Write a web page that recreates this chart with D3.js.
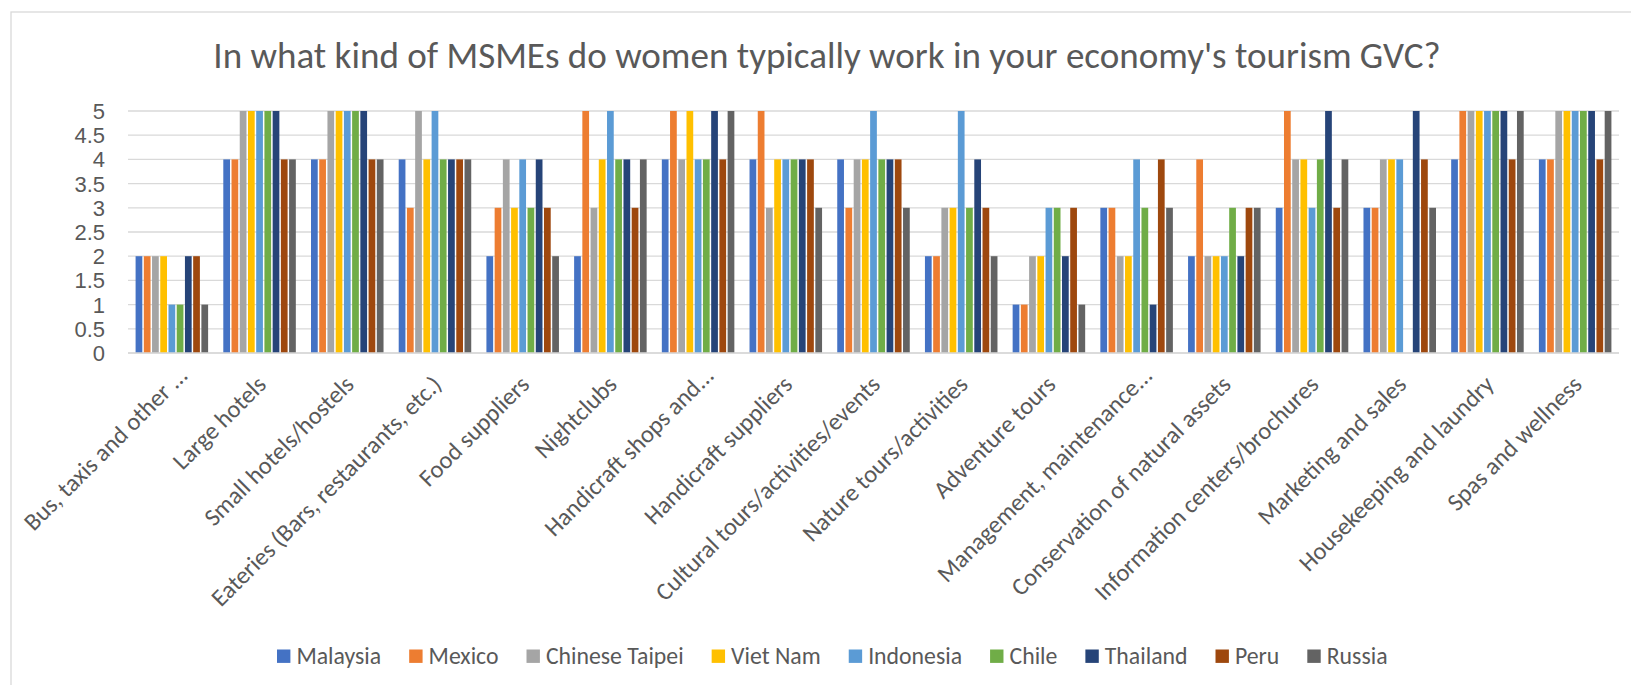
<!DOCTYPE html>
<html>
<head>
<meta charset="utf-8">
<script src="https://cdn.jsdelivr.net/npm/d3@7"></script>
<style>
  html, body { margin: 0; padding: 0; background: #ffffff; }
  svg { display: block; font-family: Carlito, Calibri, Lato, "Open Sans", sans-serif; }
</style>
</head>
<body>
<svg id="chart" width="1631" height="685"></svg>
<script>
// Survey responses: typical MSME types where women work in the tourism GVC
const categories = [
  "Bus, taxis and other ...",
  "Large hotels",
  "Small hotels/hostels",
  "Eateries (Bars, restaurants, etc.)",
  "Food suppliers",
  "Nightclubs",
  "Handicraft shops and...",
  "Handicraft suppliers",
  "Cultural tours/activities/events",
  "Nature tours/activities",
  "Adventure tours",
  "Management, maintenance...",
  "Conservation of natural assets",
  "Information centers/brochures",
  "Marketing and sales",
  "Housekeeping and laundry",
  "Spas and wellness"
];

const seriesNames = ["Malaysia", "Mexico", "Chinese Taipei", "Viet Nam", "Indonesia", "Chile", "Thailand", "Peru", "Russia"];
const seriesColors = ["#4472C4", "#ED7D31", "#A5A5A5", "#FFC000", "#5B9BD5", "#70AD47", "#264478", "#9E480E", "#636363"];

// One array per economy, in category order
const malaysia      = [2, 4, 4, 4, 2, 2, 4, 4, 4, 2, 1, 3, 2, 3, 3, 4, 4];
const mexico        = [2, 4, 4, 3, 3, 5, 5, 5, 3, 2, 1, 3, 4, 5, 3, 5, 4];
const chineseTaipei = [2, 5, 5, 5, 4, 3, 4, 3, 4, 3, 2, 2, 2, 4, 4, 5, 5];
const vietNam       = [2, 5, 5, 4, 3, 4, 5, 4, 4, 3, 2, 2, 2, 4, 4, 5, 5];
const indonesia     = [1, 5, 5, 5, 4, 5, 4, 4, 5, 5, 3, 4, 2, 3, 4, 5, 5];
const chile         = [1, 5, 5, 4, 3, 4, 4, 4, 4, 3, 3, 3, 3, 4, 0, 5, 5];
const thailand      = [2, 5, 5, 4, 4, 4, 5, 4, 4, 4, 2, 1, 2, 5, 5, 5, 5];
const peru          = [2, 4, 4, 4, 3, 3, 4, 4, 4, 3, 3, 4, 3, 3, 4, 4, 4];
const russia        = [1, 4, 4, 4, 2, 4, 5, 3, 3, 2, 1, 3, 3, 4, 3, 5, 5];
const seriesValues = [malaysia, mexico, chineseTaipei, vietNam, indonesia, chile, thailand, peru, russia];

const yTicks = [0, 0.5, 1, 1.5, 2, 2.5, 3, 3.5, 4, 4.5, 5];
const yTickLabels = ["0", "0.5", "1", "1.5", "2", "2.5", "3", "3.5", "4", "4.5", "5"];
const titleText = "In what kind of MSMEs do women typically work in your economy's tourism GVC?";

const svg = d3.select("#chart");
const textColor = "#595959";
const gridColor = "#D9D9D9";

// Measure a string at a given size, used to size text to its slot
function measure(str, size) {
  const t = svg.append("text").attr("font-size", size).text(str);
  const w = t.node().getComputedTextLength();
  t.remove();
  return w;
}

// Plot area
const plot = { left: 128, right: 1619, top: 111, bottom: 353 };

// Chart frame
svg.append("rect")
  .attr("x", 11).attr("y", 12)
  .attr("width", 1700).attr("height", 800)
  .attr("fill", "none").attr("stroke", gridColor).attr("stroke-width", 1.3);

// Title, sized to span the chart's heading width
svg.append("text")
  .attr("x", 827).attr("y", 68)
  .attr("text-anchor", "middle")
  .attr("fill", textColor)
  .attr("font-size", 30 * 1228 / measure(titleText, 30))
  .text(titleText);

// Scales
const x0 = d3.scaleBand().domain(categories).range([plot.left, plot.right]).paddingInner(0.156).paddingOuter(0.078);
const x1 = d3.scaleBand().domain(seriesNames).range([0, x0.bandwidth()]);
const y = d3.scaleLinear().domain([0, 5]).range([plot.bottom, plot.top]);
const color = d3.scaleOrdinal().domain(seriesNames).range(seriesColors);

// Horizontal gridlines
svg.append("g").selectAll("line").data(yTicks).join("line")
  .attr("x1", plot.left).attr("x2", plot.right)
  .attr("y1", d => y(d)).attr("y2", d => y(d))
  .attr("stroke", gridColor).attr("stroke-width", 1.3);

// Y-axis tick labels
const yAxis = d3.axisLeft(y).tickValues(yTicks).tickFormat((d, i) => yTickLabels[i]).tickSize(0).tickPadding(0);
const yg = svg.append("g").attr("transform", "translate(105,0)").call(yAxis);
yg.select(".domain").remove();
yg.selectAll("text").attr("fill", textColor).attr("font-size", 22).attr("font-family", null).attr("dy", "0.34em");

// Bars
const groups = svg.append("g").selectAll("g").data(categories).join("g")
  .attr("transform", d => `translate(${x0(d)},0)`);
groups.selectAll("rect")
  .data((c, ci) => seriesNames.map((s, si) => ({ s, v: seriesValues[si][ci] })))
  .join("rect")
  .attr("x", d => x1(d.s) + 0.75)
  .attr("width", x1.bandwidth() - 1.5)
  .attr("y", d => y(d.v))
  .attr("height", d => y(0) - y(d.v))
  .attr("fill", d => color(d.s));

// Category axis baseline
svg.append("line")
  .attr("x1", plot.left).attr("x2", plot.right)
  .attr("y1", plot.bottom).attr("y2", plot.bottom)
  .attr("stroke", gridColor).attr("stroke-width", 1.3);

// Rotated category labels; the longest label sets the size
const labelSize = 22 * 314 / measure(categories[3], 22);
svg.append("g").selectAll("text").data(categories).join("text")
  .attr("transform", d => `translate(${x0(d) + x0.bandwidth() / 2 + 8},386) rotate(-45)`)
  .attr("dx", d => d.endsWith("...") ? 13 : 0)
  .attr("text-anchor", "end")
  .attr("fill", textColor)
  .attr("font-size", labelSize)
  .text(d => d);

// Legend: swatch, label, fixed gaps; font sized so the row spans its full width
const swatch = 13.4, swatchGap = 6, itemGap = 28, legendSpan = 1111, legendLeft = 277;
const textSum = d3.sum(seriesNames, s => measure(s, 22));
const fixedSpan = seriesNames.length * (swatch + swatchGap) + (seriesNames.length - 1) * itemGap;
const legendSize = 22 * (legendSpan - fixedSpan) / textSum;

const legend = svg.append("g").attr("transform", `translate(${legendLeft},664)`);
const items = legend.selectAll("g").data(seriesNames).join("g");
items.append("rect")
  .attr("width", swatch).attr("height", swatch)
  .attr("y", -14.5)
  .attr("fill", d => color(d));
items.append("text")
  .attr("x", swatch + swatchGap).attr("y", 0)
  .attr("fill", textColor)
  .attr("font-size", legendSize)
  .text(d => d);
let cursor = 0;
items.each(function () {
  const g = d3.select(this);
  g.attr("transform", `translate(${cursor},0)`);
  cursor += swatch + swatchGap + g.select("text").node().getComputedTextLength() + itemGap;
});
</script>
</body>
</html>
